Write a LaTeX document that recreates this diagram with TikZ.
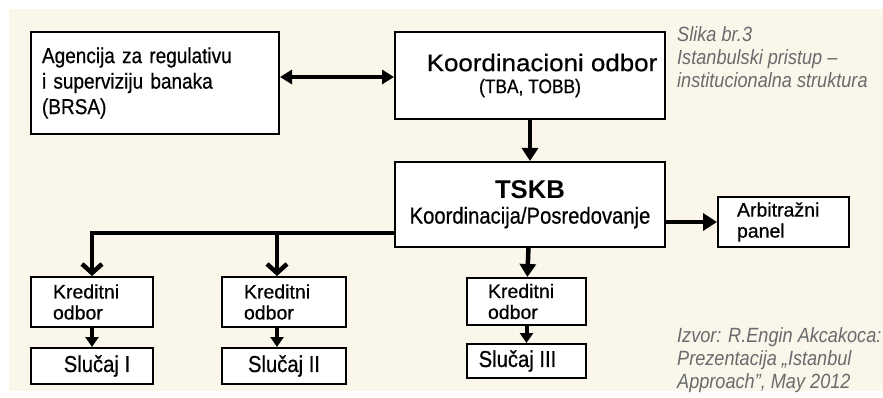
\documentclass[tikz,border=0pt]{standalone}
\usepackage{fontspec}
\setmainfont{Liberation Sans}[FakeStretch=0.88,FakeBold=0.6]
\newfontfamily\widefont[FakeStretch=1.08,FakeBold=0.6]{Liberation Sans}
\newfontfamily\smallfont[FakeBold=0.6]{Liberation Sans}
\newfontfamily\headfont{Liberation Sans}
\newfontfamily\notefont[FakeStretch=0.88]{Liberation Sans}
\usetikzlibrary{arrows.meta,calc}
\definecolor{cream}{RGB}{250,247,234}
\definecolor{notegray}{RGB}{105,106,109}
\begin{document}
\begin{tikzpicture}[x=1pt,y=-1pt,
	box/.style={draw, line width=2pt, fill=white, inner ysep=0pt, font=\fontsize{23}{25}\selectfont},
	leftbox/.style={box, align=left, font=\smallfont\fontsize{19.5}{21}\selectfont},
	conn/.style={line width=4.5pt},
	bigtip/.style={conn, -{Triangle[length=13pt,width=16pt]}},
	smalltip/.style={line width=4pt, -{Triangle[length=10pt,width=13pt]}},
	barbtip/.style={conn, -{Straight Barb[length=9pt,width=20pt,line cap=butt]}},
	note/.style={text=notegray, align=left, anchor=west, inner sep=0pt, font=\notefont\itshape\fontsize{20.6}{23}\selectfont}]
	\useasboundingbox (0,0) rectangle (883,398);
	\fill[cream] (9,9) rectangle (883,391);
	\node[leftbox, text width=226pt, inner xsep=11pt, minimum height=102pt, font=\rmfamily\fontsize{21.6}{25.5}\selectfont] (brsa) at (155,83) {Agencija za regulativu\\i superviziju banaka\\(BRSA)};
	\node[box, align=center, minimum width=270pt, minimum height=87pt, font=\fontsize{19.7}{22}\selectfont] (koord) at (530,75.5) {\hspace*{24pt}{\widefont\fontsize{24}{24}\selectfont Koordinacioni odbor}\\(TBA, TOBB)};
	\node[box, align=center, minimum width=270pt, minimum height=85pt] (tskb) at (530,204.5) {{\headfont\bfseries\fontsize{25.7}{27}\selectfont TSKB}\\Koordinacija/Posredovanje};
	\node[leftbox, text width=93pt, inner xsep=19pt, minimum height=50pt] (arb) at (783.5,222) {Arbitražni\\panel};
	\node[leftbox, text width=78pt, inner xsep=22pt, minimum height=50pt] (kred1) at (92,302) {Kreditni\\odbor};
	\node[leftbox, text width=80pt, inner xsep=22pt, minimum height=50pt] (kred2) at (284,302) {Kreditni\\odbor};
	\node[leftbox, text width=77pt, inner xsep=21pt, minimum height=47pt] (kred3) at (526.5,301.5) {Kreditni\\odbor};
	\node[box, minimum width=122pt, minimum height=36pt] (slucaj1) at (92,366) {\hspace*{10pt}Slučaj I};
	\node[box, minimum width=124pt, minimum height=36pt] (slucaj2) at (284,366) {Slučaj II};
	\node[box, minimum width=119pt, minimum height=34pt] (slucaj3) at (526.5,361) {Slučaj III\hspace*{18pt}};
	\node[note, anchor=north west] (caption) at (677,26) {Slika br.3\\Istanbulski pristup –\\institucionalna struktura};
	\node[note] (source) at (677,360) {Izvor: R.Engin Akcakoca:\\Prezentacija „Istanbul\\Approach”, May 2012};
	\coordinate (fork) at ($(kred2.north)+(-7,0)$);
	\draw[conn, {Triangle[length=12pt,width=14pt]}-{Triangle[length=12pt,width=14pt]}] (brsa.east |- 0,77) -- (koord.west |- 0,77);
	\draw[bigtip] (koord) -- (tskb);
	\draw[bigtip] (tskb) -- (kred3);
	\draw[conn, -{Triangle[length=14pt,width=17pt]}] (tskb.east |- arb) -- (arb.west);
	\draw[barbtip] (tskb.west |- 0,233) -| (kred1.north);
	\draw[barbtip] (fork |- 0,233) -- (fork);
	\draw[smalltip] (kred1) -- (slucaj1);
	\draw[smalltip] ($(kred2.south)+(-7,0)$) -- ($(slucaj2.north)+(-7,0)$);
	\draw[smalltip] (kred3) -- (slucaj3);
\end{tikzpicture}
\end{document}
